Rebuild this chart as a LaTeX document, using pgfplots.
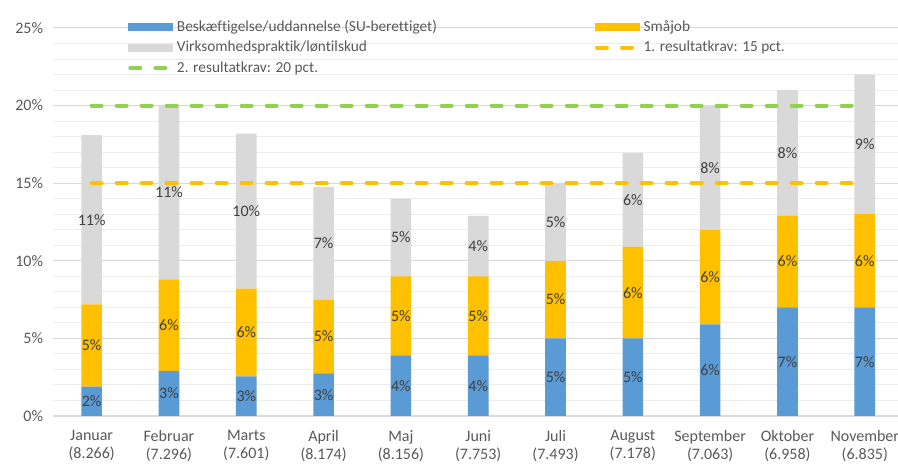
\documentclass[border=0pt]{standalone}
\usepackage{fontspec}
\setmainfont{Carlito}[Ligatures=NoCommon]
\usepackage{pgfplots}
\pgfplotsset{compat=1.18}
\definecolor{cblue}{HTML}{5B9BD5}
\definecolor{cyel}{HTML}{FFC000}
\definecolor{cgray}{HTML}{D9D9D9}
\definecolor{cgreen}{HTML}{92D050}
\definecolor{gmaj}{HTML}{D9D9D9}
\definecolor{gmin}{HTML}{EDEDED}
\definecolor{tick}{HTML}{595959}
\definecolor{lbl}{HTML}{404040}
\newcommand{\cf}{\fontsize{11.5pt}{13.5pt}\selectfont}
\newcommand{\xf}{\fontsize{12pt}{13.5pt}\selectfont}
\begin{document}
\begin{tikzpicture}
\useasboundingbox (-39.75pt,-37.5pt) rectangle (633.75pt,312pt);
\pgfplotsset{
  common/.style={
    at={(0,0)}, anchor=south west, scale only axis,
    width=633.75pt, height=291pt,
    xmin=-0.5, xmax=10.43, ymin=0, ymax=25,
  }
}
\begin{axis}[common,
  ybar stacked, bar width=15.5pt,
  axis x line*=bottom, axis y line*=left,
  y axis line style={draw=none},
  x axis line style={draw=gmaj},
  ytick={0,5,10,15,20,25},
  yticklabels={0\%,5\%,10\%,15\%,20\%,25\%},
  ytick style={draw=none},
  minor y tick num=4,
  minor y tick style={draw=none},
  ymajorgrids, yminorgrids,
  major grid style={draw=gmaj, line width=0.75pt},
  minor grid style={draw=gmin, line width=0.75pt},
  xtick={0,...,10},
  xtick style={draw=none},
  xticklabels={{Januar\\(8.266)},{Februar\\(7.296)},{Marts\\(7.601)},{April\\(8.174)},{Maj\\(8.156)},{Juni\\(7.753)},{Juli\\(7.493)},{August\\(7.178)},{September\\(7.063)},{Oktober\\(6.958)},{November\\(6.835)}},
  xticklabel style={align=center, font=\xf, text=tick, yshift=-7pt},
  yticklabel style={font=\xf, text=tick, xshift=-4pt},
  extra x ticks={-0.5,0.5,...,10.5},
  extra x tick labels={},
  extra x tick style={tick style={draw=gmaj, line width=0.75pt}, major tick length=4pt, tick align=outside, grid=none},
  legend columns=2,
  legend cell align=left,
  legend style={draw=none, fill=none, at={(0.0888,1.028)}, anchor=north west,
    font=\cf, text=tick, inner sep=0pt, row sep=2pt,
    /tikz/every even column/.append style={column sep=116.5pt}},
]
\addplot[fill=cblue, draw=none, legend image code/.code={\fill[cblue] (0pt,-3pt) rectangle (33.75pt,3pt);}] coordinates {(0,1.9) (1,2.9) (2,2.55) (3,2.75) (4,3.9) (5,3.9) (6,5.0) (7,5.0) (8,5.9) (9,7.0) (10,7.0)};
\addlegendentry{Beskæftigelse/uddannelse (SU-berettiget)}
\addplot[fill=cyel, draw=none, legend image code/.code={\fill[cyel] (0pt,-3pt) rectangle (33.75pt,3pt);}] coordinates {(0,5.3) (1,5.9) (2,5.65) (3,4.75) (4,5.1) (5,5.1) (6,5.0) (7,5.9) (8,6.1) (9,5.9) (10,6.0)};
\addlegendentry{Småjob}
\addplot[fill=cgray, draw=none, legend image code/.code={\fill[cgray] (0pt,-3pt) rectangle (33.75pt,3pt);}] coordinates {(0,10.9) (1,11.2) (2,10.0) (3,7.25) (4,5.0) (5,3.9) (6,5.0) (7,6.05) (8,8.0) (9,8.1) (10,9.0)};
\addlegendentry{Virksomhedspraktik/løntilskud}
\addlegendimage{legend image code/.code={\draw[cyel, line width=3pt, line cap=round, dash pattern=on 7.5pt off 11.25pt] (1.5pt,0pt)--(33pt,0pt);}}
\addlegendentry{1. resultatkrav: 15 pct.}
\addlegendimage{legend image code/.code={\draw[cgreen, line width=3pt, line cap=round, dash pattern=on 7.5pt off 11.25pt] (1.5pt,0pt)--(33pt,0pt);}}
\addlegendentry{2. resultatkrav: 20 pct.}
\end{axis}
\begin{axis}[common, axis lines=none, clip=false]
\addplot[draw=none, mark=none, point meta=explicit symbolic, nodes near coords,
  every node near coord/.append style={anchor=center, font=\xf, text=lbl}]
  coordinates {(0,0.95)[2\%] (1,1.45)[3\%] (2,1.275)[3\%] (3,1.375)[3\%] (4,1.95)[4\%] (5,1.95)[4\%] (6,2.5)[5\%] (7,2.5)[5\%] (8,2.95)[6\%] (9,3.5)[7\%] (10,3.5)[7\%]};
\addplot[draw=none, mark=none, point meta=explicit symbolic, nodes near coords,
  every node near coord/.append style={anchor=center, font=\xf, text=lbl}]
  coordinates {(0,4.55)[5\%] (1,5.85)[6\%] (2,5.375)[6\%] (3,5.125)[5\%] (4,6.45)[5\%] (5,6.45)[5\%] (6,7.5)[5\%] (7,7.95)[6\%] (8,8.95)[6\%] (9,9.95)[6\%] (10,10.0)[6\%]};
\addplot[draw=none, mark=none, point meta=explicit symbolic, nodes near coords,
  every node near coord/.append style={anchor=center, font=\xf, text=lbl}]
  coordinates {(0,12.65)[11\%] (1,14.4)[11\%] (2,13.2)[10\%] (3,11.125)[7\%] (4,11.5)[5\%] (5,10.95)[4\%] (6,12.5)[5\%] (7,13.925)[6\%] (8,16.0)[8\%] (9,16.95)[8\%] (10,17.5)[9\%]};
\addplot[cyel, line width=3pt, line cap=round, dash pattern=on 7.5pt off 11.25pt] coordinates {(0,15) (10,15)};
\addplot[cgreen, line width=3pt, line cap=round, dash pattern=on 7.5pt off 11.25pt] coordinates {(0,20) (10,20)};
\end{axis}
\end{tikzpicture}
\end{document}
